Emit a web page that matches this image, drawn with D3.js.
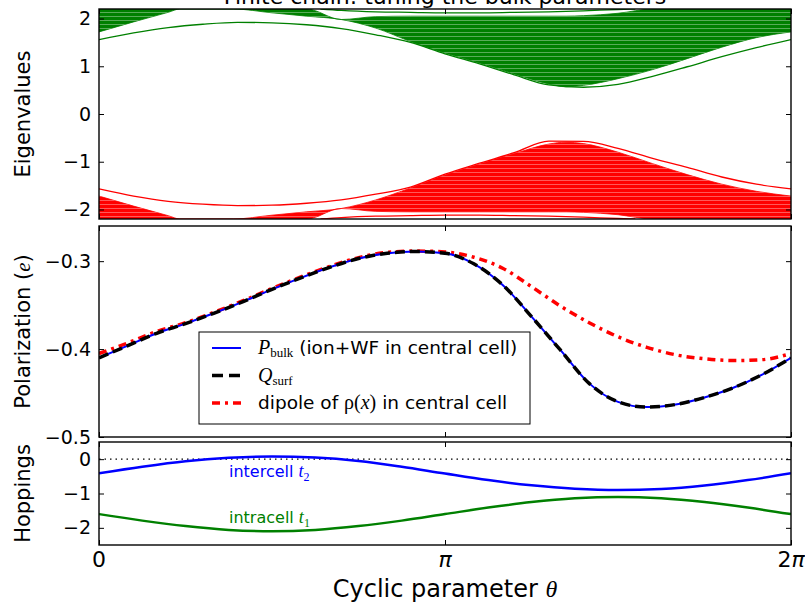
<!DOCTYPE html>
<html>
<head>
<meta charset="utf-8">
<script src="https://cdn.jsdelivr.net/npm/d3@7"></script>
<style>
  body { margin: 0; background: #fff; }
  svg { display: block; }
  text { font-family: "DejaVu Sans", sans-serif; }
</style>
</head>
<body>
<svg id="chart" width="805" height="604"></svg>
<script>
// theta is stored in units of pi (0 .. 2)

// --- top panel: eigenvalues of the finite chain ---
const bandTheta = [0, 0.1, 0.2, 0.234, 0.388, 0.5, 0.6, 0.7, 0.8, 0.9, 1.0, 1.1, 1.2, 1.3, 1.35, 1.4, 1.5, 1.6, 1.7, 1.8, 1.9, 2.0];
const greenInner = [1.72, 1.93, 2.13, 2.2, 2.2, 2.12, 2.05, 1.98, 1.80, 1.52, 1.28, 1.07, 0.84, 0.63, 0.57, 0.60, 0.74, 0.93, 1.16, 1.40, 1.60, 1.72];
const greenOuter = [2.2, 2.2, 2.2, 2.2, 2.2, 2.2, 2.2, 1.98, 2.04, 2.05, 2.05, 2.05, 2.05, 2.05, 2.05, 2.06, 2.11, 2.2, 2.2, 2.2, 2.2, 2.2];
const redInner = [-1.72, -1.93, -2.13, -2.2, -2.2, -2.12, -2.05, -1.98, -1.80, -1.55, -1.28, -1.05, -0.83, -0.63, -0.59, -0.62, -0.80, -1.04, -1.27, -1.47, -1.62, -1.72];
const redOuter = [-2.2, -2.2, -2.2, -2.2, -2.2, -2.2, -2.2, -1.98, -2.04, -2.05, -2.05, -2.05, -2.05, -2.05, -2.05, -2.06, -2.11, -2.2, -2.2, -2.2, -2.2, -2.2];

const edgeTheta = [0, 0.1, 0.2, 0.3, 0.4, 0.5, 0.6, 0.7, 0.8, 0.9, 1.0, 1.1, 1.2, 1.3, 1.4, 1.5, 1.6, 1.7, 1.8, 1.9, 2.0];
const greenEdge = [1.56, 1.70, 1.81, 1.88, 1.92, 1.91, 1.87, 1.79, 1.66, 1.50, 1.26, 1.05, 0.82, 0.61, 0.56, 0.62, 0.79, 0.99, 1.20, 1.39, 1.56];
const redEdge = [-1.57, -1.72, -1.83, -1.89, -1.92, -1.91, -1.87, -1.80, -1.68, -1.53, -1.26, -1.03, -0.81, -0.57, -0.575, -0.72, -0.93, -1.12, -1.32, -1.47, -1.57];

const topTheta = [0.64, 0.7, 0.8, 0.9, 1.0, 1.1, 1.2, 1.3, 1.4, 1.5, 1.55];
const greenTop = [2.2, 2.17, 2.14, 2.13, 2.12, 2.12, 2.13, 2.14, 2.16, 2.19, 2.2];
const redBottom = [-2.2, -2.17, -2.14, -2.13, -2.12, -2.12, -2.13, -2.14, -2.16, -2.19, -2.2];

// --- middle panel: polarization ---
const polTheta = d3.range(25).map(i => i / 12);
const pBulk = [-0.410, -0.396, -0.382, -0.371, -0.359, -0.346, -0.332, -0.319, -0.307, -0.297, -0.291, -0.289, -0.291, -0.303, -0.327, -0.363, -0.401, -0.439, -0.460, -0.466, -0.463, -0.455, -0.444, -0.429, -0.410];
const qSurf = [-0.410, -0.396, -0.382, -0.371, -0.359, -0.346, -0.332, -0.319, -0.307, -0.297, -0.291, -0.289, -0.291, -0.303, -0.327, -0.363, -0.401, -0.439, -0.460, -0.466, -0.463, -0.455, -0.444, -0.429, -0.410];
const dipole = [-0.405, -0.393, -0.380, -0.370, -0.358, -0.345, -0.331, -0.318, -0.306, -0.296, -0.290, -0.2885, -0.2895, -0.2955, -0.308, -0.329, -0.351, -0.370, -0.386, -0.398, -0.4065, -0.411, -0.413, -0.412, -0.405];

// --- bottom panel: hoppings ---
const hopTheta = d3.range(17).map(i => i / 8);
const t2 = [-0.41, -0.22, -0.06, 0.04, 0.08, 0.05, -0.05, -0.22, -0.42, -0.61, -0.76, -0.86, -0.9, -0.87, -0.77, -0.61, -0.41];
const t1 = [-1.6, -1.79, -1.95, -2.06, -2.1, -2.06, -1.95, -1.79, -1.6, -1.41, -1.25, -1.14, -1.1, -1.14, -1.25, -1.41, -1.6];

const svg = d3.select("#chart");
const left = 99, right = 791;
const x = d3.scaleLinear().domain([0, 2]).range([left, right]);

// faint stripes to mimic the dense eigenvalue lines
const stripes = svg.append("defs").append("pattern")
  .attr("id", "stripes").attr("patternUnits", "userSpaceOnUse")
  .attr("width", 8).attr("height", 4);
stripes.append("rect").attr("x", 0).attr("y", 0).attr("width", 8).attr("height", 1)
  .attr("fill", "#fff").attr("fill-opacity", 0.35);

const panels = [
  { id: "eig", top: 9, bottom: 219, domain: [-2.2, 2.2], ticks: [-2, -1, 0, 1, 2], fmt: d3.format("d") },
  { id: "pol", top: 226, bottom: 437, domain: [-0.5, -0.26], ticks: [-0.5, -0.4, -0.3], fmt: d3.format(".1f") },
  { id: "hop", top: 442, bottom: 545, domain: [-2.5, 0.5], ticks: [-2, -1, 0], fmt: d3.format("d") }
];
panels.forEach(p => {
  p.y = d3.scaleLinear().domain(p.domain).range([p.bottom, p.top]);
  svg.append("clipPath").attr("id", "clip-" + p.id)
    .append("rect").attr("x", left).attr("y", p.top)
    .attr("width", right - left).attr("height", p.bottom - p.top);
  p.g = svg.append("g").attr("clip-path", `url(#clip-${p.id})`);
});
const [pe, pp, ph] = panels;

const zip = (xs, ys) => xs.map((v, i) => [v, ys[i]]);

// eigenvalue bands
function band(g, y, inner, outer, color) {
  const area = d3.area()
    .x(d => x(d[0])).y0(d => y(d[1])).y1(d => y(d[2]))
    .curve(d3.curveMonotoneX);
  const data = bandTheta.map((t, i) => [t, inner[i], outer[i]]);
  g.append("path").datum(data).attr("d", area)
    .attr("fill", color).attr("stroke", color).attr("stroke-width", 0.8);
  g.append("path").datum(data).attr("d", area).attr("fill", "url(#stripes)");
}
band(pe.g, pe.y, greenInner, greenOuter, "#008000");
band(pe.g, pe.y, redInner, redOuter, "#ff0000");

const lineE = d3.line().x(d => x(d[0])).y(d => pe.y(d[1])).curve(d3.curveMonotoneX);
[[edgeTheta, greenEdge, "#008000"], [edgeTheta, redEdge, "#ff0000"],
 [topTheta, greenTop, "#008000"], [topTheta, redBottom, "#ff0000"]].forEach(([ts, vs, c]) => {
  pe.g.append("path").datum(zip(ts, vs)).attr("d", lineE)
    .attr("fill", "none").attr("stroke", c).attr("stroke-width", 1.3);
});

// polarization
const lineP = d3.line().x(d => x(d[0])).y(d => pp.y(d[1])).curve(d3.curveMonotoneX);
pp.g.append("path").datum(zip(polTheta, dipole)).attr("d", lineP)
  .attr("fill", "none").attr("stroke", "#ff0000").attr("stroke-width", 3.5)
  .attr("stroke-dasharray", "8,5,3,5");
pp.g.append("path").datum(zip(polTheta, pBulk)).attr("d", lineP)
  .attr("fill", "none").attr("stroke", "#0000ff").attr("stroke-width", 2);
pp.g.append("path").datum(zip(polTheta, qSurf)).attr("d", lineP)
  .attr("fill", "none").attr("stroke", "#000").attr("stroke-width", 3.5)
  .attr("stroke-dasharray", "10,5");

// hoppings
ph.g.append("line").attr("x1", left).attr("x2", right)
  .attr("y1", ph.y(0)).attr("y2", ph.y(0))
  .attr("stroke", "#000").attr("stroke-width", 1.2).attr("stroke-dasharray", "1.5,4");
const lineH = d3.line().x(d => x(d[0])).y(d => ph.y(d[1])).curve(d3.curveMonotoneX);
ph.g.append("path").datum(zip(hopTheta, t2)).attr("d", lineH)
  .attr("fill", "none").attr("stroke", "#0000ff").attr("stroke-width", 2.5);
ph.g.append("path").datum(zip(hopTheta, t1)).attr("d", lineH)
  .attr("fill", "none").attr("stroke", "#008000").attr("stroke-width", 2.5);

function mathLabel(sel, word, sub, color) {
  const t = sel.append("text").attr("fill", color).style("font-size", "16px");
  t.append("tspan").text(word + " ");
  t.append("tspan").attr("font-family", "Liberation Serif").attr("font-style", "italic")
    .style("font-size", "18px").text("t");
  t.append("tspan").attr("font-family", "Liberation Serif").style("font-size", "12px")
    .attr("dy", 4).text(sub);
  return t;
}
mathLabel(svg, "intercell", "2", "#0000ff").attr("x", 229).attr("y", 477);
mathLabel(svg, "intracell", "1", "#008000").attr("x", 229).attr("y", 523);

// frames, ticks
panels.forEach(p => {
  const la = svg.append("g").attr("transform", `translate(${left},0)`)
    .call(d3.axisLeft(p.y).tickValues(p.ticks).tickFormat(p.fmt).tickSizeInner(-5).tickSizeOuter(0).tickPadding(8));
  const ra = svg.append("g").attr("transform", `translate(${right},0)`)
    .call(d3.axisRight(p.y).tickValues(p.ticks).tickFormat("").tickSizeInner(-5).tickSizeOuter(0));
  const ta = svg.append("g").attr("transform", `translate(0,${p.top})`)
    .call(d3.axisTop(x).tickValues([0, 1, 2]).tickFormat("").tickSizeInner(-5).tickSizeOuter(0));
  const ba = svg.append("g").attr("transform", `translate(0,${p.bottom})`)
    .call(d3.axisBottom(x).tickValues([0, 1, 2]).tickFormat("").tickSizeInner(-5).tickSizeOuter(0));
  [la, ra, ta, ba].forEach(a => {
    a.select(".domain").remove();
    a.selectAll("line").attr("stroke", "#000").attr("stroke-width", 1);
  });
  la.selectAll("text").attr("fill", "#000")
    .style("font-family", "DejaVu Sans").style("font-size", "19px");
  svg.append("rect").attr("x", left).attr("y", p.top)
    .attr("width", right - left).attr("height", p.bottom - p.top)
    .attr("fill", "none").attr("stroke", "#000").attr("stroke-width", 1.4);
});

// x tick labels
const xt = svg.append("g").style("font-family", "Liberation Serif").style("font-size", "22px");
xt.append("text").attr("x", x(0)).attr("y", 567).attr("text-anchor", "middle").text("0");
xt.append("text").attr("x", x(1)).attr("y", 567).attr("text-anchor", "middle")
  .attr("font-style", "italic").text("π");
const tp = xt.append("text").attr("x", x(2)).attr("y", 567).attr("text-anchor", "middle");
tp.append("tspan").text("2");
tp.append("tspan").attr("font-style", "italic").text("π");

// axis titles
svg.append("text").attr("x", (left + right) / 2).attr("y", 4).attr("text-anchor", "middle")
  .style("font-size", "22px").text("Finite chain: tuning the bulk parameters");
const xl = svg.append("text").attr("x", (left + right) / 2).attr("y", 597).attr("text-anchor", "middle")
  .style("font-size", "24px");
xl.append("tspan").text("Cyclic parameter ");
xl.append("tspan").attr("font-family", "Liberation Serif").attr("font-style", "italic").text("θ");

function ylab(cy, build) {
  const t = svg.append("text").attr("transform", `translate(30,${cy}) rotate(-90)`)
    .attr("text-anchor", "middle").style("font-size", "21px");
  build(t);
}
ylab((pe.top + pe.bottom) / 2, t => t.text("Eigenvalues"));
ylab((pp.top + pp.bottom) / 2, t => {
  t.append("tspan").text("Polarization (");
  t.append("tspan").attr("font-family", "Liberation Serif").attr("font-style", "italic").text("e");
  t.append("tspan").text(")");
});
ylab((ph.top + ph.bottom) / 2, t => t.text("Hoppings"));

// legend
const lg = svg.append("g");
lg.append("rect").attr("x", 199).attr("y", 332).attr("width", 331).attr("height", 92)
  .attr("fill", "#fff").attr("stroke", "#000").attr("stroke-width", 1);
const entries = [
  { color: "#0000ff", w: 2, dash: null, kind: "P" },
  { color: "#000", w: 3.5, dash: "11,6", kind: "Q" },
  { color: "#ff0000", w: 3.5, dash: "8,5,3,5", kind: "D" }
];
entries.forEach((e, i) => {
  const yy = 348 + i * 27.5;
  lg.append("line").attr("x1", 212).attr("x2", 241).attr("y1", yy).attr("y2", yy)
    .attr("stroke", e.color).attr("stroke-width", e.w).attr("stroke-dasharray", e.dash);
  const t = lg.append("text").attr("x", 258).attr("y", yy + 6).style("font-size", "18.5px");
  if (e.kind === "P") {
    t.append("tspan").attr("font-family", "Liberation Serif").attr("font-style", "italic").style("font-size", "20px").text("P");
    t.append("tspan").attr("font-family", "Liberation Serif").style("font-size", "13px").attr("dy", 3).text("bulk");
    t.append("tspan").attr("dy", -3).text(" (ion+WF in central cell)");
  } else if (e.kind === "Q") {
    t.append("tspan").attr("font-family", "Liberation Serif").attr("font-style", "italic").style("font-size", "20px").text("Q");
    t.append("tspan").attr("font-family", "Liberation Serif").style("font-size", "13px").attr("dy", 3).text("surf");
  } else {
    t.append("tspan").text("dipole of ");
    t.append("tspan").attr("font-family", "Liberation Serif").style("font-size", "20px").text("ρ(");
    t.append("tspan").attr("font-family", "Liberation Serif").attr("font-style", "italic").style("font-size", "20px").text("x");
    t.append("tspan").attr("font-family", "Liberation Serif").style("font-size", "20px").text(")");
    t.append("tspan").text(" in central cell");
  }
});
</script>
</body>
</html>
